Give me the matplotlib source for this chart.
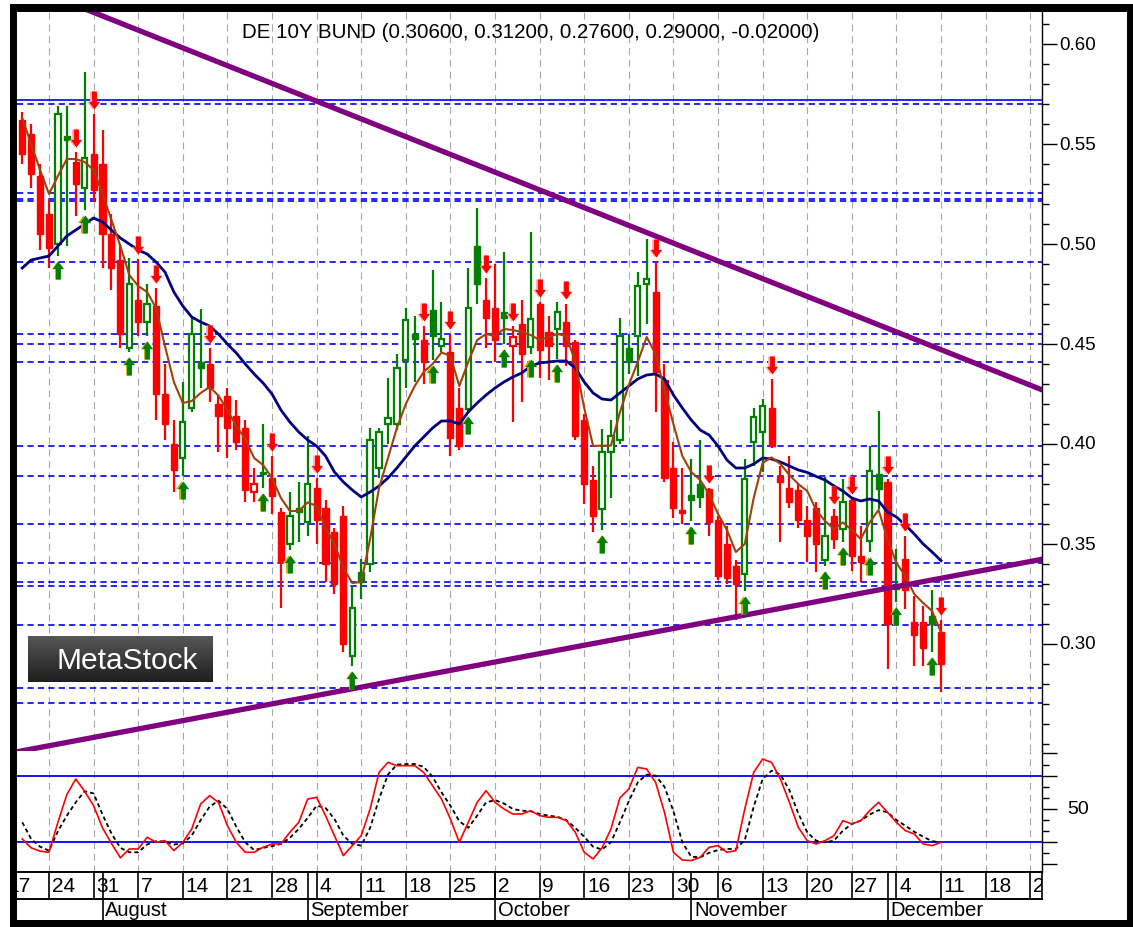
import numpy as np
import pandas as pd
import matplotlib
matplotlib.use('Agg')
import matplotlib.pyplot as plt
from matplotlib.path import Path
from matplotlib.patches import Rectangle
import matplotlib.transforms as mtransforms

plt.rcParams['font.family'] = ['Liberation Sans', 'DejaVu Sans']
plt.rcParams['lines.scale_dashes'] = False

# ---------------- data ----------------
TITLE = 'DE 10Y BUND (0.30600, 0.31200, 0.27600, 0.29000, -0.02000)'
dates = pd.bdate_range('2017-07-19', '2017-12-11')

opens = [0.562, 0.555, 0.534, 0.515, 0.500, 0.554, 0.541, 0.528, 0.545, 0.540,
         0.505, 0.492, 0.448, 0.472, 0.461, 0.469, 0.425, 0.400, 0.393, 0.418,
         0.441, 0.440, 0.420, 0.424, 0.414, 0.408, 0.376, 0.386, 0.383, 0.366,
         0.350, 0.368, 0.361, 0.378, 0.368, 0.356, 0.364, 0.294, 0.336, 0.340,
         0.388, 0.410, 0.410, 0.442, 0.455, 0.452, 0.467, 0.449, 0.446, 0.418,
         0.4175, 0.499, 0.472, 0.468, 0.466, 0.449, 0.460, 0.4483, 0.470, 0.456,
         0.4575, 0.461, 0.451, 0.412, 0.382, 0.3675, 0.396, 0.402, 0.448, 0.454,
         0.480, 0.476, 0.432, 0.388, 0.367, 0.3745, 0.380, 0.3775, 0.362, 0.350,
         0.339, 0.335, 0.401, 0.406, 0.418, 0.384, 0.378, 0.377, 0.362, 0.368,
         0.342, 0.364, 0.3575, 0.372, 0.344, 0.3517, 0.385, 0.381, 0.330, 0.3425,
         0.311, 0.311, 0.314, 0.306]
highs = [0.566, 0.560, 0.540, 0.522, 0.569, 0.569, 0.546, 0.586, 0.565, 0.557,
         0.515, 0.500, 0.493, 0.4925, 0.480, 0.478, 0.440, 0.412, 0.431, 0.463,
         0.4675, 0.448, 0.424, 0.428, 0.422, 0.412, 0.388, 0.410, 0.394, 0.368,
         0.376, 0.381, 0.404, 0.383, 0.372, 0.358, 0.369, 0.329, 0.3425, 0.408,
         0.408, 0.433, 0.445, 0.468, 0.464, 0.459, 0.487, 0.471, 0.455, 0.428,
         0.488, 0.518, 0.483, 0.490, 0.496, 0.459, 0.472, 0.506, 0.471, 0.464,
         0.471, 0.470, 0.452, 0.415, 0.389, 0.4075, 0.412, 0.463, 0.455, 0.486,
         0.5025, 0.491, 0.440, 0.401, 0.388, 0.3925, 0.402, 0.378, 0.364, 0.359,
         0.342, 0.3925, 0.418, 0.4225, 0.4325, 0.389, 0.394, 0.380, 0.369, 0.371,
         0.3833, 0.3675, 0.3825, 0.3725, 0.359, 0.399, 0.4167, 0.3825, 0.3475, 0.354,
         0.324, 0.319, 0.327, 0.312]
lows = [0.540, 0.528, 0.497, 0.488, 0.494, 0.499, 0.514, 0.517, 0.521, 0.488,
        0.477, 0.448, 0.446, 0.454, 0.454, 0.412, 0.402, 0.376, 0.384, 0.416,
        0.428, 0.421, 0.396, 0.393, 0.397, 0.371, 0.371, 0.378, 0.365, 0.318,
        0.347, 0.351, 0.354, 0.350, 0.331, 0.325, 0.296, 0.289, 0.3225, 0.336,
        0.383, 0.400, 0.407, 0.428, 0.431, 0.430, 0.442, 0.446, 0.394, 0.397,
        0.4167, 0.470, 0.448, 0.441, 0.450, 0.411, 0.421, 0.445, 0.433, 0.432,
        0.4425, 0.439, 0.402, 0.370, 0.356, 0.357, 0.373, 0.400, 0.435, 0.434,
        0.460, 0.416, 0.381, 0.363, 0.360, 0.3617, 0.368, 0.354, 0.332, 0.330,
        0.312, 0.3267, 0.389, 0.386, 0.398, 0.351, 0.368, 0.358, 0.341, 0.336,
        0.339, 0.3475, 0.351, 0.3367, 0.331, 0.346, 0.3675, 0.2875, 0.321, 0.3175,
        0.289, 0.289, 0.296, 0.276]
closes = [0.545, 0.535, 0.505, 0.498, 0.565, 0.552, 0.530, 0.543, 0.527, 0.505,
          0.488, 0.455, 0.480, 0.461, 0.470, 0.425, 0.410, 0.387, 0.411, 0.455,
          0.438, 0.428, 0.414, 0.408, 0.401, 0.377, 0.380, 0.385, 0.374, 0.341,
          0.364, 0.366, 0.380, 0.362, 0.340, 0.330, 0.300, 0.318, 0.331, 0.402,
          0.406, 0.413, 0.438, 0.462, 0.4525, 0.441, 0.454, 0.4525, 0.403, 0.399,
          0.468, 0.480, 0.463, 0.452, 0.463, 0.4533, 0.445, 0.4625, 0.447, 0.449,
          0.466, 0.449, 0.404, 0.380, 0.364, 0.396, 0.404, 0.454, 0.441, 0.479,
          0.4825, 0.436, 0.383, 0.368, 0.3655, 0.372, 0.3735, 0.361, 0.334, 0.333,
          0.330, 0.3825, 0.4133, 0.419, 0.399, 0.381, 0.371, 0.362, 0.354, 0.350,
          0.354, 0.3525, 0.3708, 0.344, 0.341, 0.3867, 0.3775, 0.310, 0.3275, 0.327,
          0.3045, 0.298, 0.310, 0.290]
# expert-advisor bar state (g = bullish, r = bearish)
state = ('rrrrggrgrr' 'rrgrgrrrgg' 'grrrrrrgrr' 'gggrrrrggg' 'gggggrggrr'
         'ggrrgrrgrr' 'grrrrggggg' 'grrrrggrrr' 'rgggrrrrrr' 'grgrrggrgr' 'rrgr')

ma_long = [0.488, 0.492, 0.493, 0.494, 0.499, 0.504, 0.507, 0.510, 0.513, 0.511,
           0.507, 0.503, 0.500, 0.497, 0.495, 0.491, 0.486, 0.476, 0.469, 0.4635,
           0.461, 0.459, 0.455, 0.450, 0.4455, 0.440, 0.435, 0.4305, 0.425, 0.417,
           0.411, 0.406, 0.402, 0.399, 0.394, 0.386, 0.381, 0.377, 0.3735, 0.376,
           0.379, 0.383, 0.388, 0.3935, 0.399, 0.4035, 0.408, 0.4115, 0.4115, 0.410,
           0.416, 0.4205, 0.4245, 0.428, 0.431, 0.4335, 0.4355, 0.439, 0.4405, 0.441,
           0.4415, 0.4415, 0.438, 0.431, 0.4255, 0.4225, 0.422, 0.4255, 0.429, 0.4325,
           0.4345, 0.435, 0.4325, 0.4245, 0.418, 0.412, 0.407, 0.4045, 0.399, 0.392,
           0.388, 0.388, 0.390, 0.393, 0.3925, 0.391, 0.389, 0.387, 0.3858, 0.3838,
           0.382, 0.379, 0.3765, 0.373, 0.3715, 0.3725, 0.3715, 0.366, 0.3635, 0.3595,
           0.355, 0.350, 0.346, 0.3417]
ma_short = [0.563, 0.550, 0.537, 0.525, 0.534, 0.5425, 0.5425, 0.541, 0.537, 0.525,
            0.512, 0.499, 0.4845, 0.479, 0.476, 0.468, 0.449, 0.431, 0.4205, 0.4215,
            0.4255, 0.4285, 0.4242, 0.417, 0.409, 0.4025, 0.393, 0.3895, 0.383, 0.373,
            0.3665, 0.3665, 0.3708, 0.369, 0.358, 0.350, 0.338, 0.3305, 0.331, 0.3525,
            0.378, 0.393, 0.408, 0.420, 0.429, 0.436, 0.440, 0.4458, 0.444, 0.429,
            0.441, 0.452, 0.455, 0.454, 0.4575, 0.457, 0.456, 0.4545, 0.452, 0.4535,
            0.455, 0.454, 0.441, 0.418, 0.399, 0.3992, 0.3992, 0.4158, 0.4295, 0.441,
            0.4535, 0.445, 0.427, 0.410, 0.394, 0.386, 0.382, 0.375, 0.365, 0.357,
            0.346, 0.350, 0.373, 0.3905, 0.3933, 0.390, 0.3845, 0.380, 0.3765, 0.367,
            0.3615, 0.3575, 0.3608, 0.357, 0.3525, 0.3608, 0.367, 0.3525, 0.3405, 0.334,
            0.325, 0.3205, 0.3165, 0.3058]
stoch_k = [23, 15, 12, 11, 38, 63, 77, 66, 53, 33,
           19, 6, 14, 14, 24.5, 20, 21.5, 12.5, 20, 32,
           54.5, 62, 56, 35, 20, 11, 11, 15.5, 18.5, 18.5,
           29, 38, 59, 60.5, 44, 26, 8, 17, 26, 50,
           83, 92, 89, 89, 89, 83, 71, 59, 41, 20,
           38, 56, 66.5, 56, 50, 45.5, 45.5, 48.5, 44, 42.5,
           42.5, 39.5, 29, 11, 5, 15, 32, 60, 68, 87.5,
           86, 74, 47, 11, 4, 3.5, 6.5, 15.5, 17, 11,
           12.5, 50, 83, 95, 92, 77, 56, 33.5, 21.5, 18.5,
           21.5, 26, 39.5, 36.5, 39.5, 48.5, 56, 47, 38, 30.5,
           27.5, 18.5, 17, 20]
stoch_d = [38, 23, 16, 12.5, 30, 44, 56, 66, 64, 45,
           28, 15, 11, 11, 18, 21, 20.5, 18, 19, 26,
           40, 52, 57.5, 50, 34, 20, 13, 15, 16.5, 18.5,
           24, 32, 42, 53, 51, 41, 26, 18.5, 17, 33,
           59, 81, 90, 90.5, 90.5, 88, 79, 65, 53, 39,
           33, 44, 56, 58, 55, 50, 48.5, 48, 45.5, 44,
           43, 40, 33, 25, 16, 13.5, 20, 38, 57, 74,
           81, 80, 70, 48, 20, 7, 6.5, 10.5, 13, 14,
           14, 22, 52, 77, 84.5, 81, 67, 46, 29, 21.5,
           20, 21.5, 30.5, 36.5, 39.5, 45, 49, 47, 40, 35,
           29.5, 25, 21, 20]

buy_signals = ['2017-07-25', '2017-07-28', '2017-08-04', '2017-08-08', '2017-08-14',
               '2017-08-25', '2017-08-30', '2017-09-08', '2017-09-21', '2017-09-27',
               '2017-10-03', '2017-10-06', '2017-10-11', '2017-10-18', '2017-11-01',
               '2017-11-09', '2017-11-22', '2017-11-24', '2017-11-29', '2017-12-04',
               '2017-12-08']
sell_signals = ['2017-07-27', '2017-07-31', '2017-08-07', '2017-08-09', '2017-08-17',
                '2017-08-28', '2017-09-04', '2017-09-20', '2017-09-25', '2017-09-29',
                '2017-10-04', '2017-10-09', '2017-10-12', '2017-10-26', '2017-11-03',
                '2017-11-14', '2017-11-23', '2017-11-27', '2017-12-01', '2017-12-05',
                '2017-12-11']

support_levels = [0.570, 0.5253, 0.5225, 0.5213, 0.4912, 0.455, 0.450, 0.4408,
                  0.3992, 0.3842, 0.360, 0.3403, 0.3308, 0.3292, 0.3095, 0.278, 0.2705]
solid_level = 0.572
upper_trend = [('2017-07-31', 0.6158), ('2017-10-27', 0.5022)]
lower_trend = [('2017-09-08', 0.2776), ('2017-11-03', 0.3111)]
stoch_bands = [80, 20]

price_ticks = [0.30, 0.35, 0.40, 0.45, 0.50, 0.55, 0.60]

# ---------------- layout helpers ----------------
W, H = 1133, 928
fig = plt.figure(figsize=(W / 100, H / 100), dpi=100)
fig.patch.set_facecolor('white')


def fbox(x0, y0, x1, y1):
    return [x0 / W, 1 - y1 / H, (x1 - x0) / W, (y1 - y0) / H]


PL, PR = 17, 1042
XLIM = (-0.587, 114.32)
LABEL_X = 1 + (1059 - PR) / (PR - PL)     # axes-fraction x of right-hand labels
GREEN = '#008000'
RED = '#ff0000'
BLUE = '#0000ff'
PURPLE = '#800080'
NAVY = '#000080'
BROWN = '#a0400a'
GRID = '#a8a8a8'

ax = fig.add_axes(fbox(PL, 13, PR, 752))
axs = fig.add_axes(fbox(PL, 752, PR, 873))
axd = fig.add_axes(fbox(PL, 873, PR, 921))

n = len(dates)
xs = np.arange(n)
pos = {d: i for i, d in enumerate(dates)}

axis_days = pd.bdate_range('2017-07-17', '2017-12-29')
axis_pos = np.arange(len(axis_days)) - 2
mondays = [p for d, p in zip(axis_days, axis_pos) if d.weekday() == 0]

# ---------------- price panel ----------------
ax.set_xlim(*XLIM)
ax.set_ylim(0.2465, 0.616)
for m in mondays:
    ax.axvline(m, color=GRID, lw=0.8, ls=(0, (5, 3.5)), zorder=1)
for lv in support_levels:
    ax.axhline(lv, color=BLUE, lw=1.2, ls=(0, (4.5, 3)), zorder=2)
ax.axhline(solid_level, color=BLUE, lw=1.2, zorder=2)

for k in range(n):
    col = GREEN if state[k] == 'g' else RED
    o, c = opens[k], closes[k]
    ax.plot([k, k], [lows[k], highs[k]], color=col, lw=1.6, zorder=3,
            solid_capstyle='butt')
    bot, top = min(o, c), max(o, c)
    hgt = max(top - bot, 0.0008)
    if c > o:
        ax.add_patch(Rectangle((k - 0.3, bot), 0.6, hgt, facecolor='white',
                               edgecolor=col, lw=1.6, zorder=3.2))
    else:
        ax.add_patch(Rectangle((k - 0.34, bot), 0.68, hgt, facecolor=col,
                               edgecolor=col, lw=1.0, zorder=3.2))

ax.plot(xs, ma_long, color=NAVY, lw=2.0, zorder=4)
ax.plot(xs, ma_short, color=BROWN, lw=1.5, zorder=4.1)


def trend(anchors):
    (d0, v0), (d1, v1) = anchors
    p0, p1 = pos[pd.Timestamp(d0)], pos[pd.Timestamp(d1)]
    slope = (v1 - v0) / (p1 - p0)
    xx = np.array([XLIM[0] - 5, XLIM[1] + 5])
    return xx, v0 + slope * (xx - p0)


for anc in (upper_trend, lower_trend):
    tx, ty = trend(anc)
    ax.plot(tx, ty, color=PURPLE, lw=3.8, zorder=5, solid_capstyle='butt')

up_arrow = Path([(-0.62, 0.15), (0, 1), (0.62, 0.15), (0.27, 0.15), (0.27, -1),
                 (-0.27, -1), (-0.27, 0.15), (-0.62, 0.15)],
                [Path.MOVETO] + [Path.LINETO] * 6 + [Path.CLOSEPOLY])
down_arrow = Path([(x, -y) for x, y in up_arrow.vertices], up_arrow.codes)

OFF = 0.0072
bx = [pos[pd.Timestamp(d)] for d in buy_signals]
by = [lows[i] - OFF for i in bx]
sx = [pos[pd.Timestamp(d)] for d in sell_signals]
sy = [highs[i] + OFF for i in sx]
shift = mtransforms.offset_copy(ax.transData, fig=fig, x=-1.0, y=0, units='points')
ax.plot(bx, by, ls='none', marker=up_arrow, ms=13, mfc='#c8b400', mec='none',
        transform=shift, zorder=6)
ax.plot(bx, by, ls='none', marker=up_arrow, ms=13, mfc=GREEN, mec='none', zorder=6.1)
ax.plot(sx, sy, ls='none', marker=down_arrow, ms=13, mfc='#ffb0b0', mec='none',
        transform=shift, zorder=6)
ax.plot(sx, sy, ls='none', marker=down_arrow, ms=13, mfc=RED, mec='none', zorder=6.1)

ax.set_yticks(price_ticks)
ax.set_yticks(np.round(np.arange(0.25, 0.615, 0.01), 2), minor=True)
ax.tick_params(axis='y', which='both', left=False, right=True, labelleft=False,
               labelright=False, direction='out', width=1.0)
ax.tick_params(axis='y', which='major', length=11)
ax.tick_params(axis='y', which='minor', length=5)
ylab_tr = mtransforms.blended_transform_factory(ax.transAxes, ax.transData)
for t in price_ticks:
    ax.text(LABEL_X, t, f'{t:.2f}', transform=ylab_tr, ha='left', va='center',
            fontsize=13.5, clip_on=False)
ax.set_xticks([])
for s in ('left', 'top', 'bottom'):
    ax.spines[s].set_visible(False)
ax.spines['right'].set_linewidth(1.0)

fig.text(531 / W, 1 - 32 / H, TITLE, ha='center', va='center', fontsize=14.8)

# logo
axl = fig.add_axes(fbox(28, 637, 212, 683))
grad = np.linspace(0.34, 0.12, 50)[:, None] * np.ones((1, 10))
axl.imshow(grad, cmap='gray', vmin=0, vmax=1, aspect='auto', extent=(0, 1, 0, 1))
axl.set_xlim(0, 1)
axl.set_ylim(0, 1)
axl.axis('off')
axl.text(0.54, 0.47, 'MetaStock', color='white', ha='center', va='center',
         fontsize=21.5)

# ---------------- stochastic panel ----------------
axs.set_xlim(*XLIM)
axs.set_ylim(-6.76, 102.25)
for m in mondays:
    axs.axvline(m, color=GRID, lw=0.8, ls=(0, (5, 3.5)), zorder=1)
for b in stoch_bands:
    axs.axhline(b, color=BLUE, lw=1.3, zorder=2)
axs.plot(xs, stoch_d, color='black', lw=1.3, ls=(0, (3, 2.2)), zorder=3)
axs.plot(xs, stoch_k, color=RED, lw=1.2, zorder=4)
axs.set_yticks([0, 20, 50, 80, 100])
axs.set_yticks(np.arange(0, 101, 10), minor=True)
axs.tick_params(axis='y', which='both', left=False, right=True, labelleft=False,
                labelright=False, direction='out', width=1.0)
axs.tick_params(axis='y', which='major', length=11)
axs.tick_params(axis='y', which='minor', length=5)
slab_tr = mtransforms.blended_transform_factory(axs.transAxes, axs.transData)
axs.text(1 + (1067 - PR) / (PR - PL), 50, '50', transform=slab_tr, ha='left',
         va='center', fontsize=14, clip_on=False)
axs.set_xticks([])
for s in ('left', 'top', 'bottom'):
    axs.spines[s].set_visible(False)
axs.spines['right'].set_linewidth(1.0)

# ---------------- date rows ----------------
axd.set_xlim(*XLIM)
axd.set_ylim(0, 1)
axd.axis('off')
DIV = 0.43
axd.plot(XLIM, [1, 1], color='black', lw=1.4, clip_on=False)
axd.plot(XLIM, [DIV, DIV], color='black', lw=1.4, clip_on=False)
axd.plot([XLIM[1], XLIM[1]], [DIV, 1], color='black', lw=1.2, clip_on=False)
for d, p in zip(axis_days, axis_pos):
    if d.weekday() == 0:
        axd.plot([p, p], [DIV, 1], color='black', lw=1.2)
        axd.text(p + 0.3, (1 + DIV) / 2, str(d.day), ha='left', va='center',
                 fontsize=15, clip_on=True)
month_starts = [(d, p) for i, (d, p) in enumerate(zip(axis_days, axis_pos))
                if i > 0 and d.month != axis_days[i - 1].month]
for d, p in month_starts:
    axd.plot([p, p], [0, 1], color='black', lw=1.2)
    axd.text(p + 0.3, DIV / 2, d.strftime('%B'), ha='left', va='center',
             fontsize=14.5, clip_on=True)

# ---------------- outer frame ----------------
for (x0, y0, x1, y1) in [(10, 5, 17, 928), (10, 5, 1133, 13), (1127, 5, 1133, 928),
                         (10, 921, 1133, 928)]:
    fig.add_artist(Rectangle((x0 / W, 1 - y1 / H), (x1 - x0) / W, (y1 - y0) / H,
                             transform=fig.transFigure, facecolor='black',
                             edgecolor='none', zorder=10))

fig.savefig('out.png', dpi=100)
